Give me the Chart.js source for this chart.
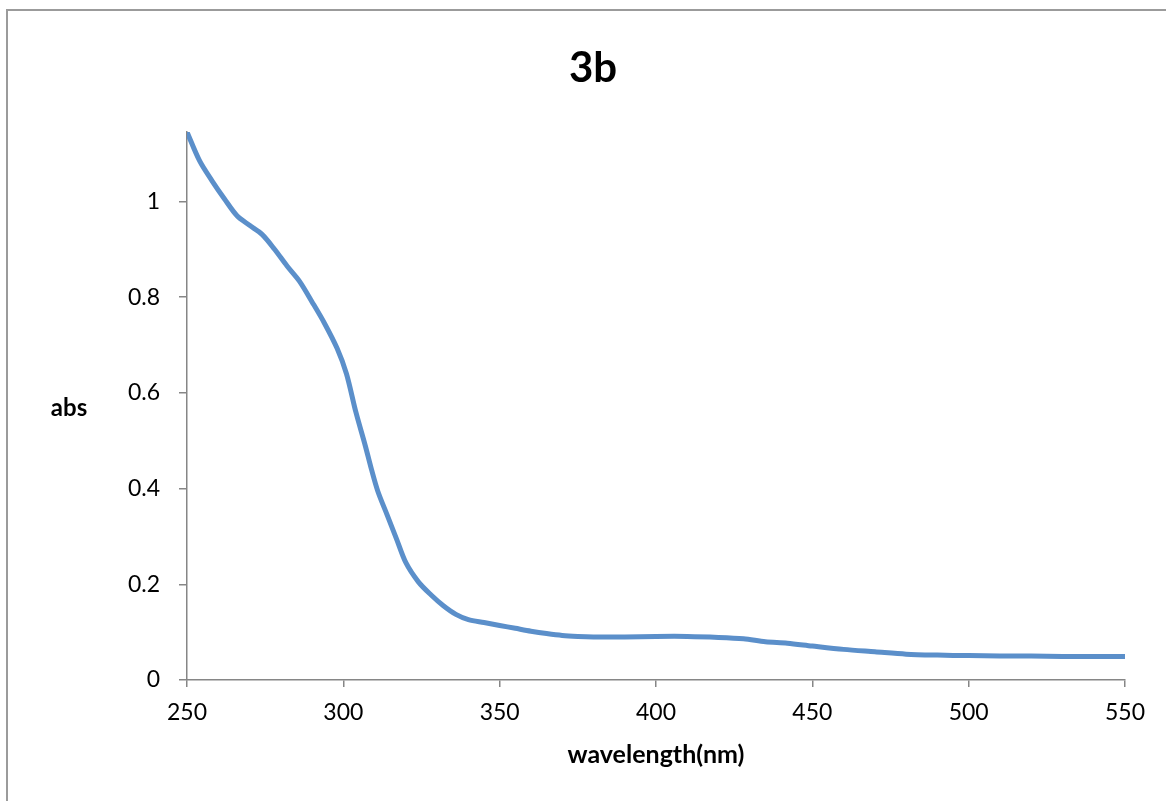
<!DOCTYPE html>
<html>
<head>
<meta charset="utf-8">
<title>3b</title>
<script src="https://cdn.jsdelivr.net/npm/chart.js@4/dist/chart.umd.min.js"></script>
<style>
  html, body { margin: 0; padding: 0; background: #fff; }
  #wrap { width: 1166px; height: 801px; }
</style>
</head>
<body>
<div id="wrap"><canvas id="spectrum" width="1166" height="801"></canvas></div>
<script>
// UV-vis absorbance spectrum of sample 3b
const wavelengths = [250, 254, 258, 262, 266, 270, 274, 278, 282, 286, 290, 294, 298, 301, 304, 307, 309, 311, 314, 317, 320, 324, 328, 332, 336, 340, 345, 350, 355, 360, 365, 370, 375, 380, 390, 400, 410, 420, 428, 435, 442, 450, 460, 470, 480, 490, 500, 510, 520, 530, 540, 550];
const absorbance = [1.145, 1.085, 1.043, 1.005, 0.970, 0.950, 0.931, 0.900, 0.865, 0.833, 0.790, 0.745, 0.693, 0.640, 0.560, 0.490, 0.440, 0.395, 0.345, 0.295, 0.245, 0.205, 0.178, 0.155, 0.137, 0.126, 0.120, 0.114, 0.108, 0.102, 0.097, 0.093, 0.091, 0.090, 0.090, 0.091, 0.091, 0.089, 0.086, 0.080, 0.077, 0.071, 0.064, 0.059, 0.054, 0.052, 0.051, 0.050, 0.050, 0.049, 0.049, 0.049];

const xTicks = [250, 300, 350, 400, 450, 500, 550];
const yTicks = [0, 0.2, 0.4, 0.6, 0.8, 1];

const axisGrey = '#868686';
const fontFamily = 'Lato, "Open Sans", sans-serif';

// outer frame of the chart object (top and left edges only)
const framePlugin = {
    id: 'frame',
    beforeDraw(chart) {
        const ctx = chart.ctx;
        ctx.save();
        ctx.strokeStyle = '#9b9b9b';
        ctx.lineWidth = 2;
        ctx.beginPath();
        ctx.moveTo(chart.width, 10);
        ctx.lineTo(7, 10);
        ctx.lineTo(7, chart.height);
        ctx.stroke();
        ctx.restore();
    }
};

// horizontal y axis label, left of the tick labels
const yLabelPlugin = {
    id: 'yLabel',
    afterDraw(chart) {
        const ctx = chart.ctx;
        const y = chart.scales.y;
        ctx.save();
        ctx.font = 'bold 24px ' + fontFamily;
        ctx.fillStyle = '#000';
        ctx.textAlign = 'center';
        ctx.textBaseline = 'middle';
        ctx.fillText('abs', 69, (y.top + y.bottom) / 2 + 2);
        ctx.restore();
    }
};

const ctx = document.getElementById('spectrum').getContext('2d');
new Chart(ctx, {
    type: 'line',
    data: {
        datasets: [{
            data: wavelengths.map((w, i) => ({ x: w, y: absorbance[i] })),
            borderColor: '#5b8fca',
            borderWidth: 5,
            pointRadius: 0,
            tension: 0.3,
            fill: false
        }]
    },
    options: {
        responsive: false,
        animation: false,
        layout: { padding: { left: 61, right: 41, top: 0, bottom: 21 } },
        plugins: {
            legend: { display: false },
            tooltip: { enabled: false },
            title: {
                display: true,
                text: '3b',
                color: '#000',
                font: { family: fontFamily, size: 42, weight: 'bold' },
                padding: { top: 43, bottom: 38.6 }
            }
        },
        scales: {
            x: {
                type: 'linear',
                min: 250,
                max: 550,
                afterBuildTicks: (scale) => { scale.ticks = xTicks.map(v => ({ value: v })); },
                afterFit: (scale) => { scale.height = 100; },
                grid: { display: true, drawOnChartArea: false, drawTicks: true, tickLength: 7, color: axisGrey, lineWidth: 1.5 },
                border: { display: true, color: axisGrey, width: 1.5 },
                ticks: {
                    color: '#000',
                    padding: 12,
                    maxRotation: 0,
                    font: { family: fontFamily, size: 23 },
                    callback: (v) => String(v)
                },
                title: {
                    display: true,
                    text: 'wavelength(nm)',
                    color: '#000',
                    font: { family: fontFamily, size: 25, weight: 'bold' },
                    padding: { top: 0, bottom: 10 }
                }
            },
            y: {
                min: 0,
                max: 1.145,
                afterBuildTicks: (scale) => { scale.ticks = yTicks.map(v => ({ value: v })); },
                afterFit: (scale) => { scale.width = 126; },
                grid: { display: true, drawOnChartArea: false, drawTicks: true, tickLength: 8, color: axisGrey, lineWidth: 1.5 },
                border: { display: true, color: axisGrey, width: 1.5 },
                ticks: {
                    color: '#000',
                    padding: 19,
                    font: { family: fontFamily, size: 23 },
                    callback: (v) => String(Math.round(v * 10) / 10)
                }
            }
        }
    },
    plugins: [framePlugin, yLabelPlugin]
});
</script>
</body>
</html>
